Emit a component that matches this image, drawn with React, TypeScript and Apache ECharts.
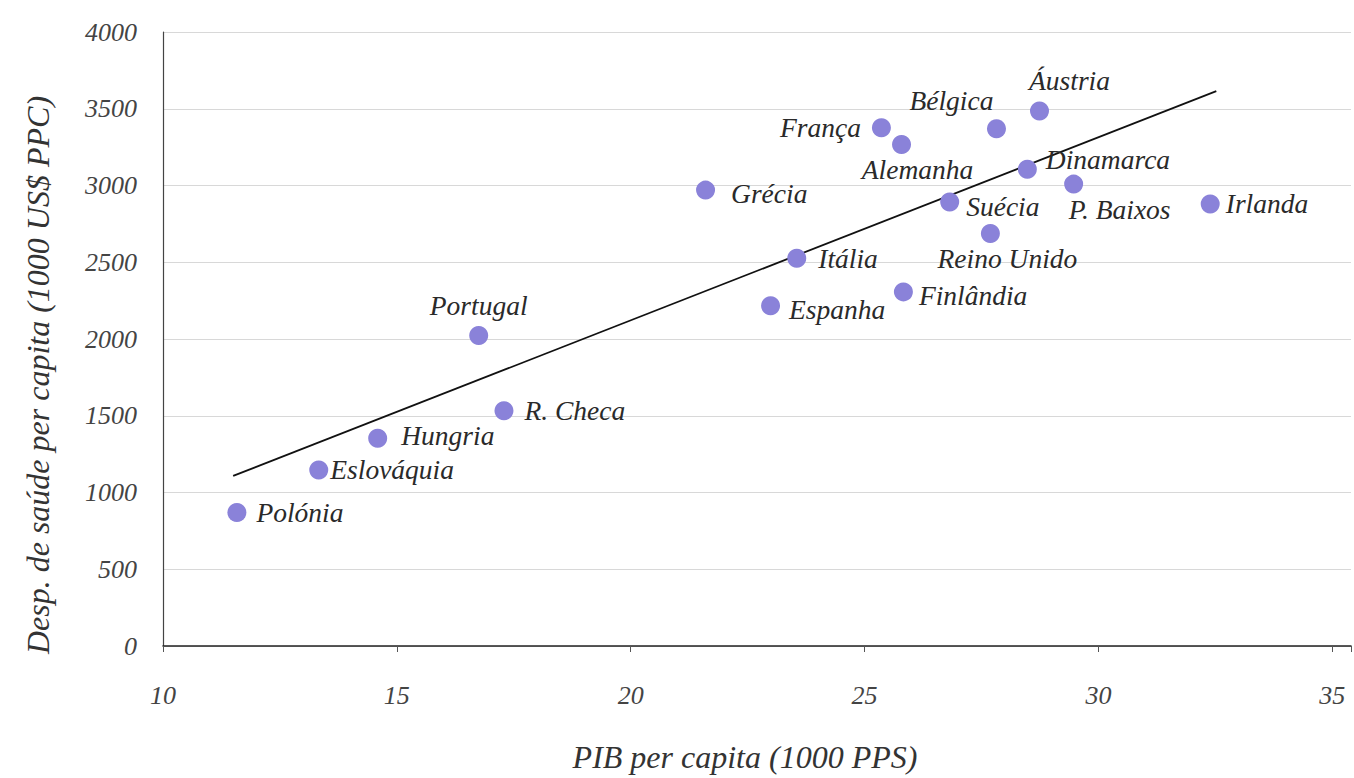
import React, { useEffect, useRef } from "react";
import * as echarts from "echarts";

const countries = ["Polónia", "Eslováquia", "Hungria", "Portugal", "R. Checa", "Grécia", "Itália", "Espanha", "França", "Alemanha", "Finlândia", "Bélgica", "Áustria", "Dinamarca", "Suécia", "Reino Unido", "P. Baixos", "Irlanda"];
const gdp = [11.58, 13.33, 14.59, 16.75, 17.29, 21.6, 23.55, 22.99, 25.36, 25.79, 25.83, 27.82, 28.74, 28.48, 26.82, 27.69, 29.47, 32.39];
const health = [870, 1147, 1353, 2023, 1533, 2970, 2526, 2216, 3376, 3267, 2307, 3370, 3486, 3106, 2893, 2687, 3009, 2880];
const trendX = [11.5, 32.52];
const trendY = [1108, 3615];
const xTicks = [10, 15, 20, 25, 30, 35];
const yTicks = [0, 500, 1000, 1500, 2000, 2500, 3000, 3500, 4000];

const labelPlacement: Record<string, { position: string; distance: number; offset: [number, number] }> = {
  "Polónia": { position: "right", distance: 10, offset: [0, 0] },
  "Eslováquia": { position: "right", distance: 2, offset: [0, 0] },
  "Hungria": { position: "right", distance: 14, offset: [0, -3] },
  "Portugal": { position: "top", distance: 7, offset: [0, 0] },
  "R. Checa": { position: "right", distance: 11, offset: [0, 0] },
  "Grécia": { position: "right", distance: 16, offset: [0, 3] },
  "Itália": { position: "right", distance: 12, offset: [0, 0] },
  "Espanha": { position: "right", distance: 9, offset: [0, 4] },
  "França": { position: "left", distance: 11, offset: [0, 0] },
  "Alemanha": { position: "bottom", distance: 2, offset: [16, 0] },
  "Finlândia": { position: "right", distance: 6, offset: [0, 4] },
  "Bélgica": { position: "top", distance: 5, offset: [-45, 0] },
  "Áustria": { position: "top", distance: 7, offset: [30, 0] },
  "Dinamarca": { position: "right", distance: 9, offset: [0, -10] },
  "Suécia": { position: "right", distance: 7, offset: [0, 5] },
  "Reino Unido": { position: "bottom", distance: 2, offset: [17, 0] },
  "P. Baixos": { position: "bottom", distance: 2, offset: [46, 0] },
  "Irlanda": { position: "right", distance: 6, offset: [0, 0] },
};

const FONT = "'Liberation Serif', 'DejaVu Serif', serif";

export default function App() {
  const ref = useRef<HTMLDivElement>(null);
  useEffect(() => {
    if (!ref.current) return;
    const chart = echarts.init(ref.current, undefined, { renderer: "svg" });
    const points = countries.map((name, i) => {
      const p = labelPlacement[name];
      return {
        name,
        value: [gdp[i], health[i]],
        label: { show: true, position: p.position, distance: p.distance, offset: p.offset },
      };
    });
    chart.setOption({
      animation: false,
      backgroundColor: "#ffffff",
      grid: { left: 163, right: 2, top: 32, bottom: 125 },
      xAxis: {
        type: "value",
        min: xTicks[0],
        max: 35.4,
        interval: 5,
        name: "PIB per capita (1000 PPS)",
        nameLocation: "middle",
        nameGap: 95,
        nameTextStyle: { fontFamily: FONT, fontStyle: "italic", fontSize: 32, color: "#333", padding: [0, 24, 0, 0] },
        axisLine: { show: true, lineStyle: { color: "#222", width: 1.5 } },
        axisTick: { show: true, length: 6, lineStyle: { color: "#555" } },
        axisLabel: {
          margin: 36,
          fontFamily: FONT,
          fontStyle: "italic",
          fontSize: 26,
          color: "#444",
          formatter: (v: number) => (xTicks.includes(v) ? String(v) : ""),
        },
        splitLine: { show: false },
      },
      yAxis: {
        type: "value",
        min: yTicks[0],
        max: yTicks[yTicks.length - 1],
        interval: 500,
        name: "Desp. de saúde per capita (1000 US$ PPC)",
        nameLocation: "middle",
        nameRotate: 90,
        nameGap: 109,
        nameTextStyle: { fontFamily: FONT, fontStyle: "italic", fontSize: 32, color: "#333", padding: [0, 72, 0, 0] },
        axisLine: { show: true, lineStyle: { color: "#444", width: 1.2 } },
        axisTick: { show: false },
        axisLabel: {
          margin: 26,
          fontFamily: FONT,
          fontStyle: "italic",
          fontSize: 26,
          color: "#444",
          formatter: (v: number) => String(v),
        },
        splitLine: { show: true, lineStyle: { color: "#d8d8d8", width: 1 } },
      },
      series: [
        {
          type: "line",
          data: trendX.map((x, i) => [x, trendY[i]]),
          symbol: "none",
          lineStyle: { color: "#111", width: 1.8 },
          silent: true,
          z: 1,
        },
        {
          type: "scatter",
          data: points,
          symbolSize: 19,
          itemStyle: { color: "#8a82d9", opacity: 1 },
          label: {
            formatter: "{b}",
            fontFamily: FONT,
            fontStyle: "italic",
            fontSize: 27.5,
            color: "#2a2a2a",
          },
          z: 2,
        },
      ],
    });
    return () => chart.dispose();
  }, []);
  return <div ref={ref} style={{ position: "absolute", left: 0, top: 0, width: 1354, height: 778 }} />;
}
